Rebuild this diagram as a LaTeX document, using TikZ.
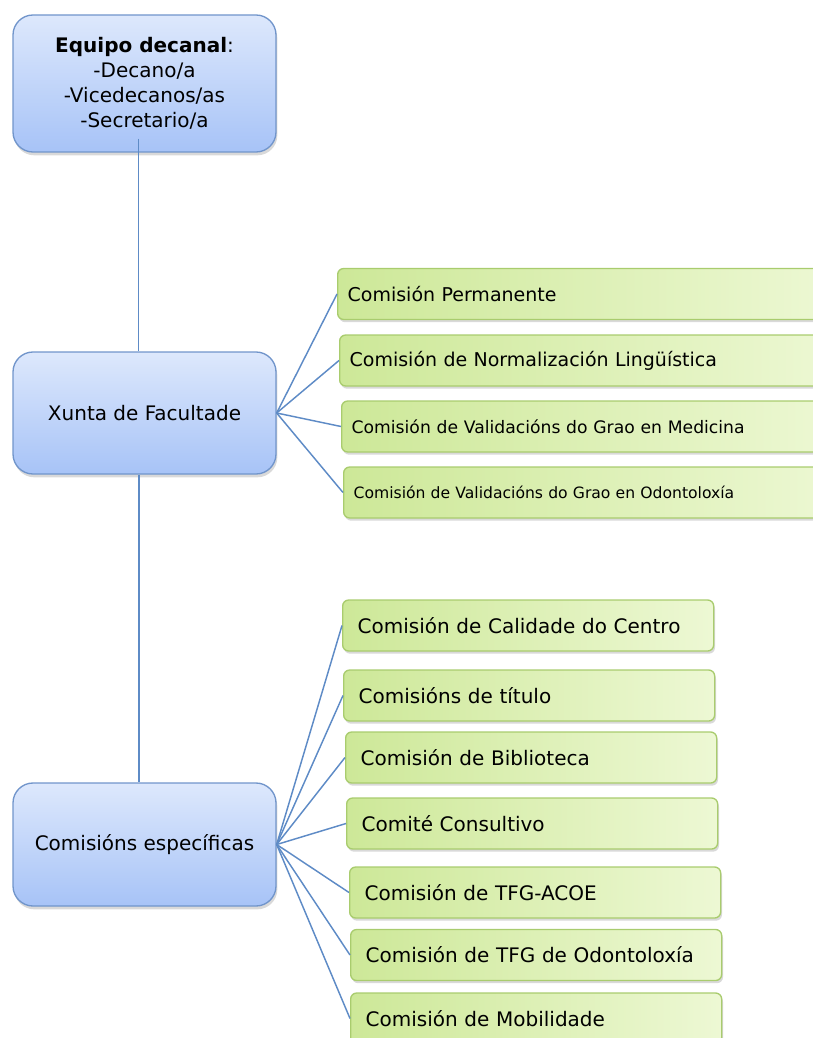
\documentclass[tikz,border=0pt]{standalone}
\usepackage{fontspec}
\setmainfont{DejaVu Sans}
\usetikzlibrary{shadows}

\definecolor{organtop}{HTML}{DDE8FC}
\definecolor{organbottom}{HTML}{A7C3F7}
\definecolor{organedge}{HTML}{7195CB}
\definecolor{comleft}{HTML}{CDE898}
\definecolor{comright}{HTML}{EDF8D4}
\definecolor{comedge}{HTML}{A9CC6E}
\definecolor{linkblue}{HTML}{5E8BC6}

\begin{document}
\begin{tikzpicture}
  [
  x=0.75pt, y=-0.75pt, line width=1pt,
  organ/.style={rectangle, rounded corners=15pt, draw=organedge, top color=organtop, bottom color=organbottom,
    minimum width=197.25pt, align=center, font=\fontsize{15}{18.75}\selectfont,
    drop shadow={shadow xshift=1pt, shadow yshift=-2.5pt, opacity=0.3}},
  comision/.style={rectangle, rounded corners=4.5pt, draw=comedge, left color=comleft, right color=comright,
    minimum height=38.25pt, anchor=west, align=left,
    drop shadow={shadow xshift=1pt, shadow yshift=-2pt, opacity=0.3}},
  toprow/.style={comision, inner xsep=7.5pt, text width=360pt},
  lowrow/.style={comision, inner xsep=11.25pt, text width=255.75pt, font=\fontsize{15}{18}\selectfont},
  link/.style={draw=linkblue, line width=1.1pt}
  ]

\path[use as bounding box] (0,0) rectangle (813,1038);
\clip (0,0) rectangle (813,1038);

% organos de goberno
\node[organ, minimum height=102.75pt] (equipo) at (144.5,83.5)
  {\textbf{Equipo decanal}:\\-Decano/a\\-Vicedecanos/as\\-Secretario/a};
\node[organ, minimum height=91.5pt] (xunta) at (144.5,413) {Xunta de Facultade};
\node[organ, minimum height=92.25pt] (especificas) at (144.5,844.5) {Comisións específicas};

\draw[link] ([xshift=-4.5pt,yshift=10.5pt]equipo.south) -- ([xshift=-4.5pt]xunta.north);
\draw[link] ([xshift=-4pt]xunta.south) -- ([xshift=-4pt]especificas.north);

% comisions da xunta
\node[toprow, font=\fontsize{14.25}{17}\selectfont] (xc1) at (337,294) {Comisión Permanente};
\node[toprow, font=\fontsize{14.25}{17}\selectfont] (xc2) at (339,360.5) {Comisión de Normalización Lingüística};
\node[toprow, font=\fontsize{12.9}{15}\selectfont] (xc3) at (341,426.5) {Comisión de Validacións do Grao en Medicina};
\node[toprow, font=\fontsize{11.7}{14}\selectfont] (xc4) at (343,492.5) {Comisión de Validacións do Grao en Odontoloxía};

\foreach \i in {1,2,3,4} {
  \draw[link] (xunta.east) -- (xc\i.west);
}

% comisions especificas
\foreach \i/\x/\y/\txt in {1/342/625.5/Comisión de Calidade do Centro,
    2/343/695.5/Comisións de título,
    3/345/757.5/Comisión de Biblioteca,
    4/346/823.5/Comité Consultivo,
    5/349/892.5/Comisión de TFG-ACOE,
    6/350/955/Comisión de TFG de Odontoloxía,
    7/350/1018.5/Comisión de Mobilidade} {
  \node[lowrow] (ec\i) at (\x,\y) {\txt};
  \draw[link] (especificas.east) -- (ec\i.west);
}

\end{tikzpicture}
\end{document}
